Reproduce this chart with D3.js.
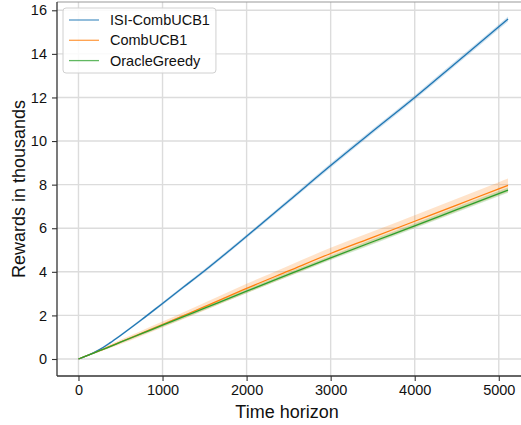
<!DOCTYPE html>
<head>
  <meta charset="utf-8">
  <script src="https://d3js.org/d3.v7.min.js"></script>
  <style>
    body { margin:0; background:#fff; }
    text { font-family: "Liberation Sans", Arial, sans-serif; fill:#111; }
  </style>
</head>
<body>
<script>
  // time steps (x) and the three series, in thousands of rewards
  var steps = [0, 125, 250, 375, 500, 750, 1000, 1250, 1500, 2000, 2500, 3000, 3500, 4000, 4500, 5000, 5110];
  var isiMean    = [0, 0.19, 0.43, 0.74, 1.08, 1.80, 2.55, 3.30, 4.05, 5.63, 7.25, 8.88, 10.45, 12.0, 13.62, 15.24, 15.6];
  var isiBand    = [0, 0.02, 0.04, 0.05, 0.05, 0.06, 0.07, 0.07, 0.08, 0.08, 0.09, 0.10, 0.10, 0.10, 0.11, 0.11, 0.11];
  var combMean   = [0, 0.19, 0.38, 0.58, 0.78, 1.18, 1.58, 1.99, 2.40, 3.24, 4.04, 4.84, 5.58, 6.32, 7.06, 7.81, 7.97];
  var combBand   = [0, 0.03, 0.06, 0.08, 0.10, 0.12, 0.14, 0.16, 0.18, 0.21, 0.24, 0.26, 0.27, 0.28, 0.29, 0.30, 0.31];
  var oracleMean = [0, 0.19, 0.38, 0.57, 0.77, 1.16, 1.55, 1.94, 2.33, 3.11, 3.88, 4.64, 5.38, 6.11, 6.85, 7.59, 7.75];
  var oracleBand = [0, 0.02, 0.03, 0.04, 0.05, 0.06, 0.07, 0.08, 0.08, 0.09, 0.10, 0.10, 0.11, 0.11, 0.12, 0.12, 0.12];
  var names  = ["ISI-CombUCB1", "CombUCB1", "OracleGreedy"];
  var colors = ["#1f77b4", "#ff7f0e", "#2ca02c"];
  var xTicks = [0, 1000, 2000, 3000, 4000, 5000];
  var yTicks = [0, 2, 4, 6, 8, 10, 12, 14, 16];

  var W = 521, H = 425;
  var pLeft = 57, pTop = 2, pRight = 529.5, pBottom = 376;

  var svg = d3.select("body").append("svg")
    .attr("width", W).attr("height", H);

  var x = d3.scaleLinear().domain([-255.5, 5365.5]).range([pLeft, pRight]);
  var y = d3.scaleLinear().domain([-0.78, 16.38]).range([pBottom, pTop]);

  // grid
  svg.append("g").selectAll("line").data(xTicks).enter().append("line")
    .attr("x1", d => x(d)).attr("x2", d => x(d))
    .attr("y1", pTop).attr("y2", pBottom)
    .attr("stroke", "#dcdcdc").attr("stroke-width", 1.4);
  svg.append("g").selectAll("line").data(yTicks).enter().append("line")
    .attr("x1", pLeft).attr("x2", pRight)
    .attr("y1", d => y(d)).attr("y2", d => y(d))
    .attr("stroke", "#dcdcdc").attr("stroke-width", 1.4);

  var series = [
    {mean: isiMean, band: isiBand},
    {mean: combMean, band: combBand},
    {mean: oracleMean, band: oracleBand}
  ];

  var area = d3.area().curve(d3.curveMonotoneX)
    .x(d => x(d.t)).y0(d => y(d.m - d.b)).y1(d => y(d.m + d.b));
  var line = d3.line().curve(d3.curveMonotoneX).x(d => x(d.t)).y(d => y(d.m));

  series.forEach(function(s, i) {
    var pts = steps.map((t, j) => ({t: t, m: s.mean[j], b: s.band[j]}));
    svg.append("path").datum(pts).attr("d", area)
      .attr("fill", colors[i]).attr("fill-opacity", 0.22).attr("stroke", "none");
  });
  series.forEach(function(s, i) {
    var pts = steps.map((t, j) => ({t: t, m: s.mean[j], b: s.band[j]}));
    svg.append("path").datum(pts).attr("d", line)
      .attr("fill", "none").attr("stroke", colors[i]).attr("stroke-width", 1.3);
  });

  // spines
  svg.append("line").attr("x1", pLeft).attr("x2", pRight).attr("y1", pTop).attr("y2", pTop)
    .attr("stroke", "#999").attr("stroke-width", 1.2);
  svg.append("line").attr("x1", pLeft).attr("x2", pLeft).attr("y1", pTop).attr("y2", pBottom)
    .attr("stroke", "#333").attr("stroke-width", 1.3);
  svg.append("line").attr("x1", pLeft).attr("x2", pRight).attr("y1", pBottom).attr("y2", pBottom)
    .attr("stroke", "#333").attr("stroke-width", 1.3);

  // axes
  var xAxis = d3.axisBottom(x).tickValues(xTicks).tickSize(5).tickPadding(4).tickFormat(d3.format("d"));
  var gx = svg.append("g").attr("transform", "translate(0," + pBottom + ")").call(xAxis);
  var yAxis = d3.axisLeft(y).tickValues(yTicks).tickSize(5).tickPadding(5).tickFormat(d3.format("d"));
  var gy = svg.append("g").attr("transform", "translate(" + pLeft + ",0)").call(yAxis);
  [gx, gy].forEach(function(g) {
    g.select(".domain").remove();
    g.selectAll(".tick line").attr("stroke", "#333").attr("stroke-width", 1.1);
    g.selectAll(".tick text").attr("font-size", 14.5).attr("fill", "#111")
      .style("font-family", "Liberation Sans, Arial, sans-serif");
  });

  svg.append("text").attr("x", 287).attr("y", 418)
    .attr("text-anchor", "middle").attr("font-size", 18).text("Time horizon");
  svg.append("text").attr("transform", "translate(25,189) rotate(-90)")
    .attr("text-anchor", "middle").attr("font-size", 18).text("Rewards in thousands");

  // legend
  var lg = svg.append("g");
  var box = lg.append("rect").attr("x", 63).attr("y", 8).attr("rx", 3)
    .attr("fill", "#fff").attr("fill-opacity", 0.85).attr("stroke", "#d0d0d0");
  var maxW = 0;
  names.forEach(function(n, i) {
    var yy = 20 + i * 20.3;
    lg.append("line").attr("x1", 69).attr("x2", 99).attr("y1", yy).attr("y2", yy)
      .attr("stroke", colors[i]).attr("stroke-width", 1.3).attr("stroke-opacity", 0.75);
    var t = lg.append("text").attr("x", 110).attr("y", yy + 5).attr("font-size", 14.5).text(n);
    maxW = Math.max(maxW, t.node().getComputedTextLength());
  });
  box.attr("width", 110 + maxW + 6 - 63).attr("height", 65);
</script>
</body>
